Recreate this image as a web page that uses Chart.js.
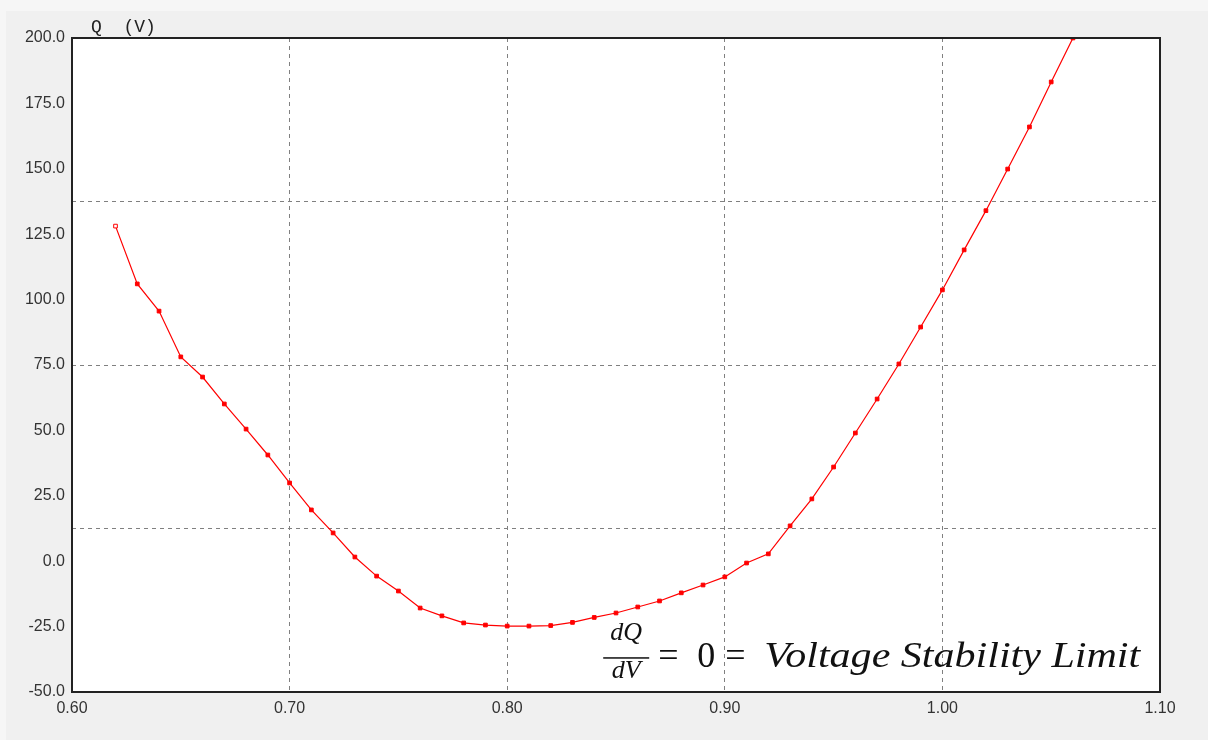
<!DOCTYPE html>
<html>
<head>
<meta charset="utf-8">
<script src="https://cdn.jsdelivr.net/npm/chart.js@4/dist/chart.umd.min.js"></script>
<style>
  html, body { margin: 0; padding: 0; background: #f0f0f0; }
  #wrap { width: 1208px; height: 740px; }
</style>
</head>
<body>
<div id="wrap"><canvas id="qvCanvas"></canvas></div>
<script>
// Q-V curve, voltage (pu) vs reactive power
const voltage = [0.62, 0.63, 0.64, 0.65, 0.66, 0.67, 0.68, 0.69, 0.70, 0.71,
  0.72, 0.73, 0.74, 0.75, 0.76, 0.77, 0.78, 0.79, 0.80, 0.81,
  0.82, 0.83, 0.84, 0.85, 0.86, 0.87, 0.88, 0.89, 0.90, 0.91,
  0.92, 0.93, 0.94, 0.95, 0.96, 0.97, 0.98, 0.99, 1.00, 1.01,
  1.02, 1.03, 1.04, 1.05, 1.06];
const qValues = [128.1, 106.0, 95.6, 78.1, 70.4, 60.1, 50.5, 40.6, 29.9, 19.6,
  10.8, 1.6, -5.7, -11.4, -17.9, -20.9, -23.6, -24.4, -24.8, -24.8,
  -24.6, -23.4, -21.5, -19.8, -17.5, -15.2, -12.1, -9.1, -6.0, -0.7,
  2.8, 13.5, 23.8, 36.0, 49.0, 62.0, 75.4, 89.5, 103.7, 119.0,
  134.0, 149.9, 166.0, 183.2, 200.0];
const xTicks = [0.60, 0.70, 0.80, 0.90, 1.00, 1.10];
const yTicks = [-50, -25, 0, 25, 50, 75, 100, 125, 150, 175, 200];
const yGridLines = [-50, 12.5, 75, 137.5, 200];
const axisLabel = "Q  (V)";
const noteText = "Voltage Stability Limit";

const tickFont = { family: "'Liberation Sans', Arial, sans-serif", size: 16 };
const gridColor = "#808080";

const framePlugin = {
  id: "frame",
  beforeDraw(chart) {
    const ctx = chart.ctx;
    const a = chart.chartArea;
    ctx.save();
    ctx.fillStyle = "#f0f0f0";
    ctx.fillRect(0, 0, chart.width, chart.height);
    ctx.fillStyle = "#f6f6f6";
    ctx.fillRect(0, 0, chart.width, 11);
    ctx.fillRect(0, 0, 6, chart.height);
    ctx.fillStyle = "#ffffff";
    ctx.fillRect(a.left, a.top, a.right - a.left, a.bottom - a.top);
    ctx.restore();
  },
  afterDraw(chart) {
    const ctx = chart.ctx;
    const a = chart.chartArea;
    ctx.save();
    ctx.strokeStyle = "#222";
    ctx.lineWidth = 2;
    ctx.strokeRect(a.left, a.top, a.right - a.left, a.bottom - a.top);

    // axis title
    ctx.fillStyle = "#222";
    ctx.font = "18px 'Liberation Mono', 'DejaVu Sans Mono', monospace";
    ctx.textBaseline = "alphabetic";
    ctx.fillText(axisLabel, a.left + 19, 32);

    // dQ/dV = 0 = Voltage Stability Limit
    const x0 = chart.scales.x.getPixelForValue(0.8) + 96;
    const base = chart.scales.y.getPixelForValue(0) + 106;
    ctx.fillStyle = "#111";
    ctx.font = "italic 26px 'Liberation Serif', 'DejaVu Serif', serif";
    ctx.textAlign = "center";
    const fracW = 46;
    ctx.fillText("dQ", x0 + fracW / 2, base - 27);
    ctx.fillText("dV", x0 + fracW / 2, base + 11);
    ctx.fillRect(x0, base - 10, fracW, 1.5);
    ctx.textAlign = "left";
    ctx.font = "36px 'Liberation Serif', 'DejaVu Serif', serif";
    ctx.fillText("=", x0 + 55, base);
    ctx.fillText("0", x0 + 94, base);
    ctx.fillText("=", x0 + 122, base);
    ctx.font = "italic 36px 'Liberation Serif', 'DejaVu Serif', serif";
    const w = ctx.measureText(noteText).width;
    const target = 376;
    ctx.save();
    ctx.translate(x0 + 161, base);
    ctx.scale(target / w, 1);
    ctx.fillText(noteText, 0, 0);
    ctx.restore();
    ctx.restore();
  }
};

const pointFill = qValues.map((v, i) => (i === 0 ? "#ffffff" : "#ff0000"));

new Chart(document.getElementById("qvCanvas"), {
  type: "line",
  data: {
    datasets: [{
      data: voltage.map((v, i) => ({ x: v, y: qValues[i] })),
      borderColor: "#ff0000",
      borderWidth: 1.2,
      pointStyle: "rect",
      pointRadius: 2.6,
      pointBorderWidth: 1,
      pointBorderColor: "#ff0000",
      pointBackgroundColor: pointFill,
      fill: false,
      tension: 0,
    }]
  },
  options: {
    responsive: true,
    maintainAspectRatio: false,
    animation: false,
    events: [],
    layout: { padding: { left: 0, top: 38, right: 48, bottom: 0 } },
    plugins: { legend: { display: false }, tooltip: { enabled: false } },
    scales: {
      x: {
        type: "linear",
        min: 0.6,
        max: 1.1,
        afterBuildTicks: (s) => { s.ticks = xTicks.map(v => ({ value: v })); },
        afterFit: (s) => { s.height = 48; },
        ticks: {
          font: tickFont,
          color: "#333",
          padding: 7,
          maxRotation: 0,
          callback: (v) => Number(v).toFixed(2),
        },
        grid: {
          drawTicks: false,
          lineWidth: 1,
          color: (c) => (c.index === 0 || c.index === xTicks.length - 1) ? "rgba(0,0,0,0)" : gridColor,
        },
        border: { display: false, dash: [4, 4] },
      },
      y: {
        type: "linear",
        position: "left",
        min: -50,
        max: 200,
        afterBuildTicks: (s) => { s.ticks = yTicks.map(v => ({ value: v })); },
        afterFit: (s) => { s.width = 72; },
        ticks: {
          font: tickFont,
          color: "#333",
          padding: 7,
          callback: (v) => Number(v).toFixed(1),
        },
        grid: { display: false, drawTicks: false },
        border: { display: false },
      },
      yGrid: {
        type: "linear",
        position: "left",
        min: -50,
        max: 200,
        afterBuildTicks: (s) => { s.ticks = yGridLines.map(v => ({ value: v })); },
        afterFit: (s) => { s.width = 0; },
        ticks: { display: false },
        grid: {
          drawTicks: false,
          lineWidth: 1,
          color: (c) => (c.index === 0 || c.index === yGridLines.length - 1) ? "rgba(0,0,0,0)" : gridColor,
        },
        border: { display: false, dash: [4, 4] },
      },
    },
  },
  plugins: [framePlugin],
});
</script>
</body>
</html>
